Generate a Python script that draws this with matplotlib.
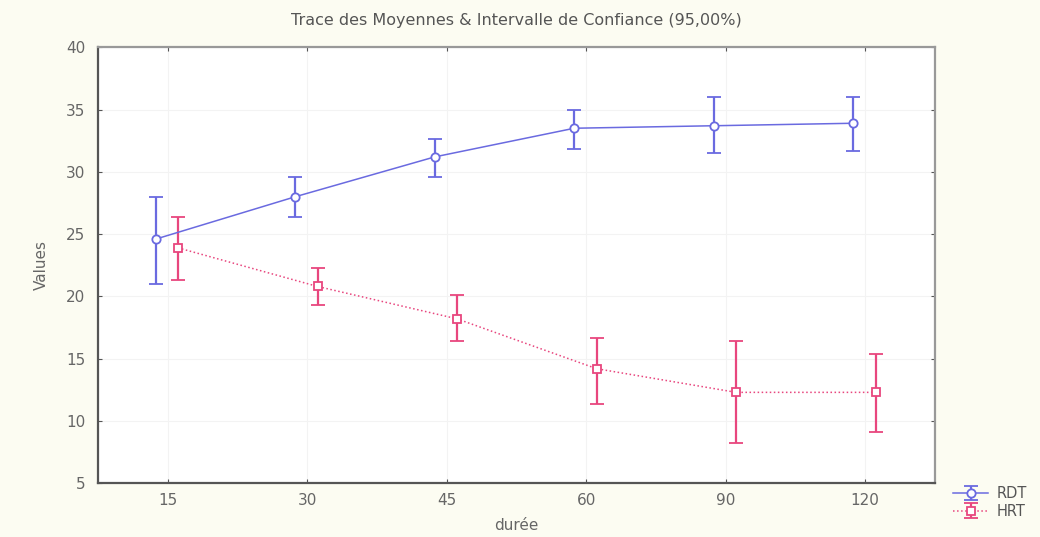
import matplotlib
matplotlib.use("Agg")
import matplotlib.pyplot as plt
import numpy as np

durees = ["15", "30", "45", "60", "90", "120"]

rdt_mean = [24.6, 28.0, 31.2, 33.5, 33.7, 33.9]
rdt_low = [21.0, 26.4, 29.6, 31.8, 31.5, 31.7]
rdt_high = [28.0, 29.6, 32.6, 35.0, 36.0, 36.0]

hrt_mean = [23.9, 20.8, 18.2, 14.2, 12.3, 12.3]
hrt_low = [21.3, 19.3, 16.4, 11.4, 8.2, 9.1]
hrt_high = [26.4, 22.3, 20.1, 16.7, 16.4, 15.4]

blue = "#6a6ae0"
pink = "#e8467e"

plt.rcParams["font.family"] = ["DejaVu Sans"]

fig = plt.figure(figsize=(10.4, 5.37), dpi=100)
fig.patch.set_facecolor("#fcfcf2")
ax = fig.add_axes([0.094, 0.10, 0.805, 0.812])
ax.set_facecolor("white")

x = np.arange(len(durees))


def draw_series(pos, mean, low, high, color, ls, marker, label):
    mean = np.array(mean)
    yerr = [mean - np.array(low), np.array(high) - mean]
    ax.errorbar(pos, mean, yerr=yerr, color=color, ls=ls, lw=1.1,
                marker=marker, ms=6, mfc="white", mec=color, mew=1.3,
                elinewidth=1.6, capsize=5, capthick=1.4, label=label)


draw_series(x - 0.085, rdt_mean, rdt_low, rdt_high, blue, "-", "o", "RDT")
draw_series(x + 0.075, hrt_mean, hrt_low, hrt_high, pink, ":", "s", "HRT")

ax.set_xlim(-0.5, 5.5)
ax.set_ylim(5, 40)
ax.set_xticks(x)
ax.set_xticklabels(durees)
ax.set_yticks(np.arange(5, 41, 5))
ax.grid(True, color="#f3f3f3", lw=0.8)
ax.set_axisbelow(True)

for side in ["left", "bottom"]:
    ax.spines[side].set_color("#555555")
    ax.spines[side].set_linewidth(1.6)
for side in ["top", "right"]:
    ax.spines[side].set_color("#999999")
    ax.spines[side].set_linewidth(1.6)

ax.tick_params(axis="both", direction="in", length=3, color="#555555",
               labelsize=11, labelcolor="#666666", top=True, right=True)
ax.tick_params(axis="x", pad=7)
ax.tick_params(axis="y", pad=9)

ax.set_title("Trace des Moyennes & Intervalle de Confiance (95,00%)",
             fontsize=11.5, color="#555555", pad=16)
ax.set_xlabel("durée", fontsize=11, color="#666666", labelpad=7)
ax.set_ylabel("Values", fontsize=11, color="#666666", labelpad=12)

leg = ax.legend(loc="lower left", bbox_to_anchor=(1.015, -0.095),
                frameon=False, fontsize=10.5, handlelength=2.4,
                labelspacing=0.2, borderaxespad=0, handletextpad=0.6)
for t in leg.get_texts():
    t.set_color("#555555")

fig.savefig("out.png", dpi=100, facecolor=fig.get_facecolor())
